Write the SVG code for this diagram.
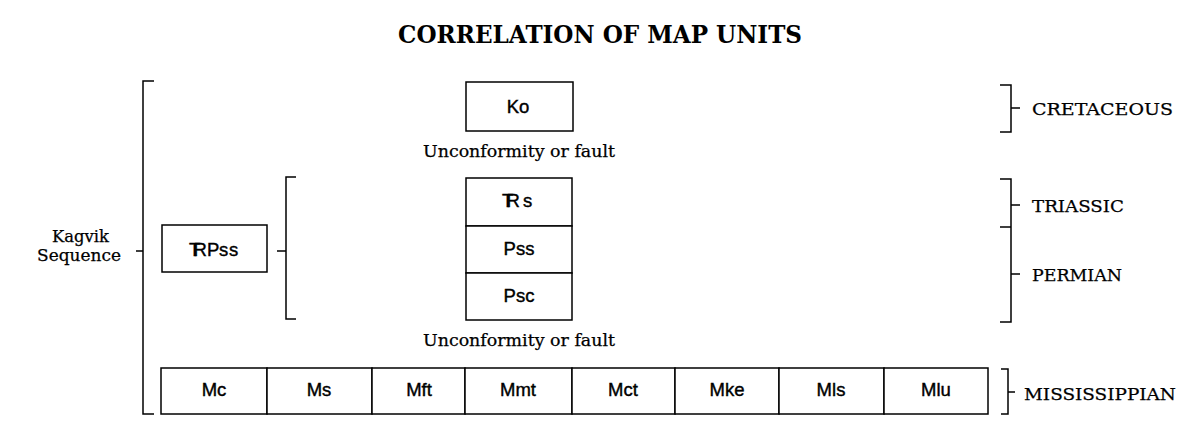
<svg xmlns="http://www.w3.org/2000/svg" width="1200" height="430" viewBox="0 0 1200 430">
<style>
.bg{fill:#fff}
.box{fill:#fff;stroke:#000;stroke-width:1.5}
.br{fill:none;stroke:#000;stroke-width:1.5}
.u{font-family:"Liberation Sans",Arial,sans-serif;font-size:18.5px;fill:#000;stroke:#000;stroke-width:0.4;text-anchor:middle}
.ul{font-family:"Liberation Sans",Arial,sans-serif;font-size:18.5px;fill:#000;stroke:#000;stroke-width:0.4}
.s{font-family:"DejaVu Serif","Liberation Serif",serif;font-size:17px;fill:#000;stroke:#000;stroke-width:0.25}
.t{font-family:"DejaVu Serif","Liberation Serif",serif;font-size:24px;font-weight:bold;fill:#000}
</style>
<rect class="bg" x="0" y="0" width="1200" height="430"/>
<text id="title" class="t" x="398" y="43" textLength="404" lengthAdjust="spacingAndGlyphs">CORRELATION  OF  MAP  UNITS</text>

<g id="connectors">
  <path class="br" d="M154,81 H143 V414 H154 M136,251 H143"/>
  <path class="br" d="M296,177 H286 V319 H296 M277,251 H286"/>
  <path class="br" d="M1000,85 H1011 V132 H1000 M1011,108 H1020"/>
  <path class="br" d="M1000,179 H1011 V322 H1000 M1000,227 H1011 M1011,205 H1020 M1011,274 H1020"/>
  <path class="br" d="M1001,369 H1008 V414 H1001 M1008,392 H1015"/>
</g>

<g id="kagvik">
  <text class="s" x="52" y="242" textLength="57" lengthAdjust="spacingAndGlyphs">Kagvik</text>
  <text class="s" x="37" y="261" textLength="84" lengthAdjust="spacingAndGlyphs">Sequence</text>
</g>

<g id="TRPss"><rect class="box" x="162" y="225" width="105" height="47"/><text class="ul" x="189 193.5 207 219 229" y="256">TRPss</text></g>

<g id="Ko"><rect class="box" x="466" y="82" width="107" height="49"/><text class="u" x="518" y="113">Ko</text></g>
<text id="unc1" class="s" x="423" y="157" textLength="192" lengthAdjust="spacingAndGlyphs">Unconformity or fault</text>

<g id="TRs"><rect class="box" x="466" y="178" width="106" height="48"/><text class="ul" x="502 506.5 523" y="207">TRs</text></g>
<g id="Pss"><rect class="box" x="466" y="226" width="106" height="47"/><text class="u" x="519" y="255">Pss</text></g>
<g id="Psc"><rect class="box" x="466" y="273" width="106" height="47"/><text class="u" x="519" y="302">Psc</text></g>
<text id="unc2" class="s" x="423" y="346" textLength="192" lengthAdjust="spacingAndGlyphs">Unconformity or fault</text>

<g id="Mc"><rect class="box" x="161" y="368" width="106" height="46"/><text class="u" x="214" y="396">Mc</text></g>
<g id="Ms"><rect class="box" x="267" y="368" width="105" height="46"/><text class="u" x="319" y="396">Ms</text></g>
<g id="Mft"><rect class="box" x="372" y="368" width="93" height="46"/><text class="u" x="419" y="396">Mft</text></g>
<g id="Mmt"><rect class="box" x="465" y="368" width="107" height="46"/><text class="u" x="518" y="396">Mmt</text></g>
<g id="Mct"><rect class="box" x="572" y="368" width="103" height="46"/><text class="u" x="623" y="396">Mct</text></g>
<g id="Mke"><rect class="box" x="675" y="368" width="104" height="46"/><text class="u" x="727" y="396">Mke</text></g>
<g id="Mls"><rect class="box" x="779" y="368" width="105" height="46"/><text class="u" x="831" y="396">Mls</text></g>
<g id="Mlu"><rect class="box" x="884" y="368" width="104" height="46"/><text class="u" x="936" y="396">Mlu</text></g>

<g id="periods">
  <text class="s" x="1032" y="115" textLength="141" lengthAdjust="spacingAndGlyphs">CRETACEOUS</text>
  <text class="s" x="1032" y="212" textLength="92" lengthAdjust="spacingAndGlyphs">TRIASSIC</text>
  <text class="s" x="1032" y="281" textLength="90" lengthAdjust="spacingAndGlyphs">PERMIAN</text>
  <text class="s" x="1024" y="400" textLength="152" lengthAdjust="spacingAndGlyphs">MISSISSIPPIAN</text>
</g>
</svg>
